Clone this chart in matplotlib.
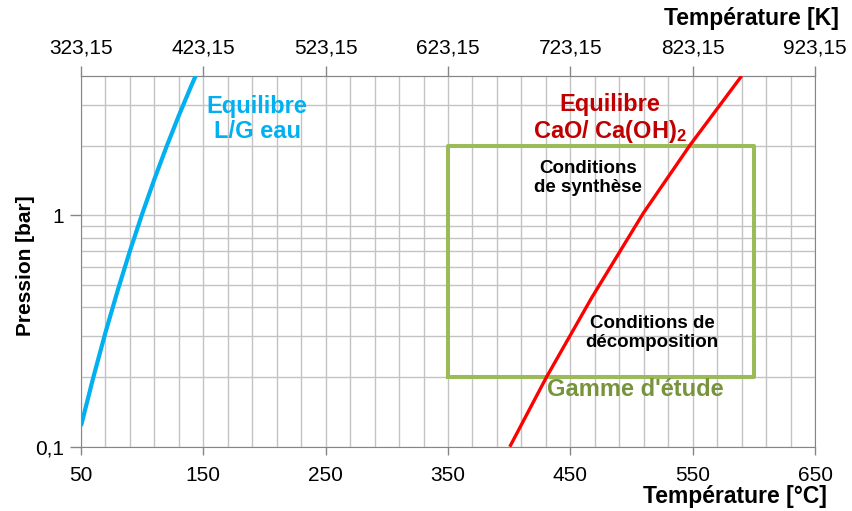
import matplotlib.pyplot as plt
from matplotlib.ticker import FixedLocator, NullFormatter

plt.rcParams['font.family'] = ['Liberation Sans', 'DejaVu Sans']
plt.rcParams['mathtext.fontset'] = 'custom'
plt.rcParams['mathtext.rm'] = 'Liberation Sans'
plt.rcParams['mathtext.bf'] = 'Liberation Sans:bold'

# equilibre liquide/gaz de l'eau
eauT = [50, 60, 70, 80, 90, 100, 110, 120, 130, 140, 145]
eauP = [0.123, 0.199, 0.312, 0.474, 0.702, 1.014, 1.434, 1.987, 2.703, 3.615, 4.15]

# equilibre CaO / Ca(OH)2
caoT = [400.5, 430.5, 467.5, 509.7, 547.8, 590]
caoP = [0.1, 0.2, 0.441, 1.023, 2.01, 4.0]

# gamme d'etude
gammeT = [350, 600]
gammeP = [0.2, 2.0]

xticks = [50, 150, 250, 350, 450, 550, 650]
kticks = [t + 273.15 for t in xticks]

grid = '#c3c3c3'
spine = '#868686'

fig = plt.figure(figsize=(8.52, 5.11), dpi=100)
ax = fig.add_axes([0.0951, 0.1258, 0.8615, 0.7255])

ax.plot(eauT, eauP, color='#00B0F0', lw=3, solid_capstyle='butt', zorder=4)
ax.plot(caoT, caoP, color='#FF0000', lw=2.4, solid_capstyle='butt', zorder=4)
ax.plot([gammeT[0], gammeT[1], gammeT[1], gammeT[0], gammeT[0]],
        [gammeP[0], gammeP[0], gammeP[1], gammeP[1], gammeP[0]],
        color='#9BBB59', lw=2.9, zorder=3)

ax.set_yscale('log')
ax.set_xlim(50, 650)
ax.set_ylim(0.1, 4)

ax.set_xticks(xticks)
ax.set_xticklabels([str(t) for t in xticks], fontsize=15)
ax.xaxis.set_minor_locator(FixedLocator(range(50, 651, 20)))
ax.set_yticks([0.1, 1])
ax.set_yticklabels(['0,1', '1'], fontsize=15)
ax.yaxis.set_minor_locator(FixedLocator([0.2, 0.3, 0.4, 0.5, 0.6, 0.7, 0.8, 0.9, 2, 3]))
ax.yaxis.set_minor_formatter(NullFormatter())
ax.tick_params(which='minor', length=0)
ax.tick_params(axis='x', which='major', length=6, color=spine, width=1, pad=8)
ax.tick_params(axis='y', which='major', length=8, color=spine, width=1, pad=4)
ax.grid(True, which='both', color=grid, lw=1, zorder=0)
ax.set_axisbelow(True)
for s in ax.spines.values():
    s.set_color(spine)

top = ax.secondary_xaxis('top', functions=(lambda t: t + 273.15, lambda k: k - 273.15))
top.set_xticks(kticks)
top.set_xticklabels([('%.2f' % k).replace('.', ',') for k in kticks], fontsize=15)
top.tick_params(length=7, color=spine, width=1, pad=6)
top.spines['top'].set_color(spine)

fig.text(0.030, 0.48, 'Pression [bar]', rotation=90, fontsize=15, fontweight='bold',
         ha='center', va='center')
fig.text(0.971, 0.028, 'Température [°C]', fontsize=16.5, fontweight='bold', ha='right', va='center')
fig.text(0.985, 0.963, 'Température [K]', fontsize=16.5, fontweight='bold', ha='right', va='center')

ax.text(0.2398, 0.885, 'Equilibre\nL/G eau', transform=ax.transAxes, color='#00B0F0',
        fontsize=17, fontweight='bold', ha='center', va='center', linespacing=1.1)
ax.text(0.72, 0.885, 'Equilibre\nCaO/ Ca(OH)$\\mathbf{_2}$', transform=ax.transAxes, color='#C00000',
        fontsize=17, fontweight='bold', ha='center', va='center', linespacing=1.1)
ax.text(0.691, 0.725, 'Conditions\nde synthèse', transform=ax.transAxes,
        fontsize=13.5, fontweight='bold', ha='center', va='center', linespacing=1.2)
ax.text(0.778, 0.307, 'Conditions de\ndécomposition', transform=ax.transAxes,
        fontsize=13.5, fontweight='bold', ha='center', va='center', linespacing=1.2)
ax.text(0.755, 0.153, "Gamme d'étude", transform=ax.transAxes, color='#77933C',
        fontsize=17, fontweight='bold', ha='center', va='center')

plt.savefig('out.png', dpi=100)
